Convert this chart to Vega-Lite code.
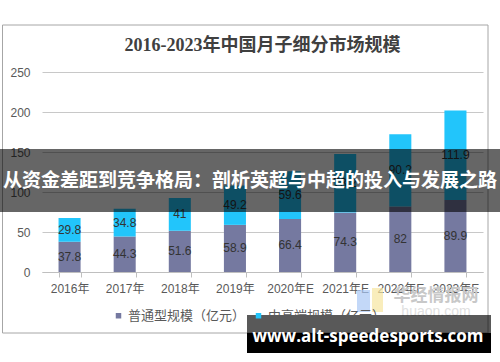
{
  "$schema": "https://vega.github.io/schema/vega-lite/v6.json",
  "width": 441,
  "height": 200,
  "autosize": {"type": "none"},
  "padding": {"left": 42, "top": 72, "right": 17, "bottom": 90},
  "background": "white",
  "title": {
    "text": "2016-2023年中国月子细分市场规模",
    "fontSize": 18,
    "font": "Liberation Serif, Noto Sans CJK SC",
    "fontWeight": "bold",
    "color": "#404040",
    "anchor": "middle",
    "offset": -30
  },
  "config": {
    "view": {"stroke": null},
    "font": "Liberation Sans, Noto Sans CJK SC",
    "axis": {"labelOverlap": false}
  },
  "data": {
    "values": [
      {"year": "2016年", "series": "普通型规模（亿元）", "value": 37.8},
      {"year": "2016年", "series": "中高端规模（亿元）", "value": 29.8},
      {"year": "2017年", "series": "普通型规模（亿元）", "value": 44.3},
      {"year": "2017年", "series": "中高端规模（亿元）", "value": 34.8},
      {"year": "2018年", "series": "普通型规模（亿元）", "value": 51.6},
      {"year": "2018年", "series": "中高端规模（亿元）", "value": 41},
      {"year": "2019年", "series": "普通型规模（亿元）", "value": 58.9},
      {"year": "2019年", "series": "中高端规模（亿元）", "value": 49.2},
      {"year": "2020年E", "series": "普通型规模（亿元）", "value": 66.4},
      {"year": "2020年E", "series": "中高端规模（亿元）", "value": 59.6},
      {"year": "2021年E", "series": "普通型规模（亿元）", "value": 74.3},
      {"year": "2021年E", "series": "中高端规模（亿元）", "value": 73.2},
      {"year": "2022年E", "series": "普通型规模（亿元）", "value": 82},
      {"year": "2022年E", "series": "中高端规模（亿元）", "value": 90.2},
      {"year": "2023年E", "series": "普通型规模（亿元）", "value": 89.9},
      {"year": "2023年E", "series": "中高端规模（亿元）", "value": 111.9}
    ]
  },
  "layer": [
    {
      "data": {"values": [{"item": "frame"}]},
      "mark": {"type": "rect", "fill": "transparent", "stroke": "#a6a6a6", "strokeWidth": 1},
      "encoding": {
        "x": {"value": -39.5},
        "x2": {"value": 446},
        "y": {"value": -47},
        "y2": {"value": 261}
      }
    },
    {
      "mark": {"type": "bar"},
      "encoding": {
        "x": {
          "field": "year",
          "type": "nominal",
          "sort": null,
          "scale": {"paddingInner": 0.6, "paddingOuter": 0.3},
          "axis": {
            "title": null,
            "labelAngle": 0,
            "labelFontSize": 12,
            "labelColor": "#595959",
            "labelPadding": 6,
            "domainColor": "#bfbfbf",
            "tickColor": "#bfbfbf",
            "tickSize": 5,
            "tickBand": "extent",
            "grid": false
          }
        },
        "y": {
          "field": "value",
          "type": "quantitative",
          "stack": "zero",
          "scale": {"domain": [0, 250], "nice": false},
          "axis": {
            "title": null,
            "values": [0, 50, 100, 150, 200, 250],
            "labelFontSize": 12,
            "labelColor": "#595959",
            "labelPadding": 12,
            "labelOverlap": false,
            "domain": false,
            "ticks": false,
            "grid": true,
            "gridColor": "#c8c8c8"
          }
        },
        "color": {
          "field": "series",
          "type": "nominal",
          "scale": {
            "domain": ["普通型规模（亿元）", "中高端规模（亿元）"],
            "range": ["#7579a0", "#22c5fb"]
          },
          "legend": {
            "orient": "none",
            "legendX": 70,
            "legendY": 237,
            "direction": "horizontal",
            "title": null,
            "symbolType": "square",
            "symbolSize": 30,
            "labelFontSize": 13,
            "labelColor": "#595959",
            "columnPadding": 6,
            "labelOffset": 3,
            "padding": 0
          }
        },
        "order": {"field": "series", "sort": "descending"}
      }
    },
    {
      "mark": {"type": "text", "fontSize": 12, "color": "#333333"},
      "encoding": {
        "x": {"field": "year", "type": "nominal", "sort": null},
        "y": {
          "field": "value",
          "type": "quantitative",
          "stack": "zero",
          "bandPosition": 0.5,
          "scale": {"domain": [0, 250], "nice": false},
          "axis": {
            "title": null,
            "values": [0, 50, 100, 150, 200, 250],
            "labelFontSize": 12,
            "labelColor": "#595959",
            "labelPadding": 12,
            "labelOverlap": false,
            "domain": false,
            "ticks": false,
            "grid": true,
            "gridColor": "#c8c8c8"
          }
        },
        "detail": {"field": "series"},
        "order": {"field": "series", "sort": "descending"},
        "text": {"field": "value", "type": "quantitative"}
      }
    },
    {
      "data": {"values": [{"item": "banner"}]},
      "mark": {"type": "rect", "color": "#000000", "opacity": 0.6},
      "encoding": {
        "x": {"value": -42},
        "x2": {"value": 458},
        "y": {"value": 77},
        "y2": {"value": 140}
      }
    },
    {
      "data": {"values": [{"item": "banner text"}]},
      "mark": {
        "type": "text",
        "text": "从资金差距到竞争格局：剖析英超与中超的投入与发展之路",
        "font": "Noto Sans CJK SC",
        "fontWeight": "bold",
        "fontSize": 19,
        "color": "white",
        "align": "center",
        "baseline": "middle"
      },
      "encoding": {"x": {"value": 208}, "y": {"value": 109}}
    },
    {
      "data": {"values": [{"item": "logo blue"}]},
      "mark": {"type": "rect", "color": "#a9c8f5", "opacity": 0.7},
      "encoding": {"x": {"value": 315}, "x2": {"value": 328}, "y": {"value": 218}, "y2": {"value": 240}}
    },
    {
      "data": {"values": [{"item": "logo yellow"}]},
      "mark": {"type": "rect", "color": "#f7e6a0", "opacity": 0.7},
      "encoding": {"x": {"value": 330}, "x2": {"value": 341}, "y": {"value": 216}, "y2": {"value": 240}}
    },
    {
      "data": {"values": [{"item": "logo text"}]},
      "mark": {
        "type": "text",
        "text": "华经情报网",
        "font": "Noto Sans CJK SC",
        "fontWeight": "bold",
        "fontSize": 17,
        "color": "#c8c8c8",
        "align": "center",
        "baseline": "middle"
      },
      "encoding": {"x": {"value": 394}, "y": {"value": 224}}
    },
    {
      "data": {"values": [{"item": "logo url"}]},
      "mark": {
        "type": "text",
        "text": "huaon.com",
        "fontSize": 14,
        "color": "#e0e0e0",
        "align": "center",
        "baseline": "middle"
      },
      "encoding": {"x": {"value": 394}, "y": {"value": 240}}
    },
    {
      "data": {"values": [{"item": "site box top"}]},
      "mark": {"type": "rect", "color": "#000000", "opacity": 0.65},
      "encoding": {"x": {"value": 205}, "x2": {"value": 449}, "y": {"value": 243}, "y2": {"value": 261}}
    },
    {
      "data": {"values": [{"item": "site box bottom"}]},
      "mark": {"type": "rect", "color": "#000000", "opacity": 1},
      "encoding": {"x": {"value": 205}, "x2": {"value": 449}, "y": {"value": 261}, "y2": {"value": 281}}
    },
    {
      "data": {"values": [{"item": "site text"}]},
      "mark": {
        "type": "text",
        "text": "www.alt-speedesports.com",
        "font": "Open Sans",
        "fontWeight": "bold",
        "fontSize": 17,
        "color": "white",
        "align": "center",
        "baseline": "middle"
      },
      "encoding": {"x": {"value": 326}, "y": {"value": 265}}
    }
  ]
}
